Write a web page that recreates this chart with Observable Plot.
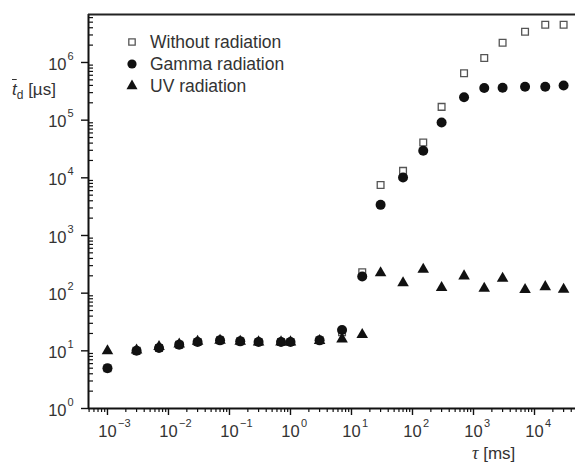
<!DOCTYPE html>
<html><head><meta charset="utf-8">
<script src="https://cdn.jsdelivr.net/npm/d3@7"></script>
<script src="https://cdn.jsdelivr.net/npm/@observablehq/plot@0.6"></script>
<style>
body{margin:0;background:#fff;font-family:"Liberation Sans",Arial,sans-serif;color:#333;}
#wrap{position:relative;width:575px;height:465px;overflow:hidden;}
.ttl{position:absolute;white-space:nowrap;font-size:17px;line-height:17px;color:#333;}
#legend{position:absolute;left:0;top:0;pointer-events:none;}
</style></head><body>
<div id="wrap"></div>
<script>
// tau [ms]
const tau = [0.001, 0.003, 0.007, 0.015, 0.03, 0.07, 0.15, 0.3, 0.7, 1, 3, 7, 15, 30, 70, 150, 300, 700, 1500, 3000, 7000, 15000, 30000];
// mean t_d [µs]
const withoutRad = [5, 10, 11.2, 12.8, 14.2, 15.2, 14.6, 14.2, 14.2, 14.2, 15.2, 21, 230, 7500, 13200, 41000, 170000, 650000, 1200000, 2200000, 3400000, 4500000, 4500000];
const gammaRad   = [5, 10, 11.2, 12.8, 14.2, 15.2, 14.6, 14.2, 14.2, 14.2, 15.2, 23, 195, 3400, 10100, 29500, 91000, 250000, 360000, 365000, 380000, 380000, 400000];
const uvRad      = [10, 10.3, 11.8, 13, 14.5, 15.2, 14.6, 14.2, 14.2, 14.2, 15, 16, 19, 225, 150, 258, 124, 198, 121, 180, 115, 129, 116];
const seriesNames = ["Without radiation", "Gamma radiation", "UV radiation"];
const xExponents = [-3, -2, -1, 0, 1, 2, 3, 4];
const yExponents = [0, 1, 2, 3, 4, 5, 6];

const W = 575, H = 465, mL = 88, mT = 14, mB = 57, mR = 0;
const xDomain = [10 ** -3.311, 10 ** 4.672];
const yDomain = [1, 10 ** 6.832];

function minors(lo, hi, dom) {
  const out = [];
  for (let e = lo; e <= hi; e++) for (let m = 2; m <= 9; m++) {
    const v = m * 10 ** e;
    if (v > dom[0] && v < dom[1]) out.push(v);
  }
  return out;
}
const xMinor = minors(-4, 4, xDomain);
const yMinor = minors(0, 6, yDomain);

const rows = (vals) => tau.map((t, i) => ({t, v: vals[i]}));
const sup = (e) => e < 0 ? "\u2212" + (-e) : String(e);
const txt = "#333";

const chart = Plot.plot({
  width: W, height: H,
  marginLeft: mL, marginTop: mT, marginBottom: mB, marginRight: mR,
  style: {fontFamily: '"Liberation Sans", Arial, sans-serif', background: "white", overflow: "visible"},
  x: {type: "log", domain: xDomain, range: [mL, W - mR]},
  y: {type: "log", domain: yDomain},
  marks: [
    // axis ticks
    Plot.axisX({ticks: xExponents.map(e => 10 ** e), tickSize: 7, tickFormat: () => "", label: null, stroke: "#111", strokeWidth: 1.4}),
    Plot.axisX({ticks: xMinor, tickSize: 4, tickFormat: () => "", label: null, stroke: "#111", strokeWidth: 1.2}),
    Plot.axisY({ticks: yExponents.map(e => 10 ** e), tickSize: 7, tickFormat: () => "", label: null, stroke: "#111", strokeWidth: 1.4}),
    Plot.tickY(yMinor, {y: d => d, insetRight: W - mL - mR - 5, stroke: "#111", strokeWidth: 1.2}),
    // frame lines
    Plot.ruleX([xDomain[0]], {stroke: "#111", strokeWidth: 2}),
    Plot.ruleY([yDomain[0]], {stroke: "#111", strokeWidth: 2}),
    Plot.ruleY([yDomain[1]], {stroke: "#222", strokeWidth: 2}),
    // tick labels
    Plot.text(xExponents, {x: d => 10 ** d, text: () => "10", frameAnchor: "bottom", dy: 28, fontSize: 16.5, fill: txt}),
    Plot.text(xExponents, {x: d => 10 ** d, text: d => sup(d), frameAnchor: "bottom", textAnchor: "start", dx: 10.5, dy: 18, fontSize: 11, fill: txt}),
    Plot.text(yExponents, {y: d => 10 ** d, text: () => "10", frameAnchor: "left", textAnchor: "end", dx: -22, dy: 2, fontSize: 16.5, fill: txt}),
    Plot.text(yExponents, {y: d => 10 ** d, text: d => sup(d), frameAnchor: "left", textAnchor: "start", dx: -21, dy: -6.5, fontSize: 11, fill: txt}),
    // data
    Plot.dot(rows(withoutRad), {x: "t", y: "v", symbol: "square", r: 3.8, fill: "white", stroke: "#555", strokeWidth: 1.3}),
    Plot.dot(rows(gammaRad), {x: "t", y: "v", symbol: "circle", r: 5, fill: "#111", stroke: "none"}),
    Plot.dot(rows(uvRad), {x: "t", y: "v", symbol: "triangle", r: 4.3, fill: "#111", stroke: "none"})
  ]
});
const wrap = document.getElementById("wrap");
wrap.appendChild(chart);

// legend overlay
const lg = d3.select(wrap).append("svg").attr("id", "legend").attr("width", W).attr("height", H);
const symbols = [d3.symbolSquare, d3.symbolCircle, d3.symbolTriangle];
const sizes = [Math.PI * 3.6 * 3.6, Math.PI * 4.6 * 4.6, Math.PI * 4.1 * 4.1];
seriesNames.forEach((name, i) => {
  const cy = 42 + i * 22;
  lg.append("path")
    .attr("d", d3.symbol(symbols[i], sizes[i])())
    .attr("transform", `translate(132,${cy})`)
    .attr("fill", i === 0 ? "white" : "#111")
    .attr("stroke", i === 0 ? "#555" : "none")
    .attr("stroke-width", 1.3);
  lg.append("text").attr("x", 150).attr("y", cy).attr("dy", "0.36em")
    .attr("font-size", 17.5).attr("fill", txt)
    .attr("font-family", '"Liberation Sans", Arial, sans-serif')
    .text(name);
});

// axis titles
const yt = document.createElement("div");
yt.className = "ttl";
yt.style.left = "12px"; yt.style.top = "81px";
yt.innerHTML = '<span style="font-style:italic;text-decoration:overline;">t</span><span style="font-size:12px;position:relative;top:4px;">d</span> [µs]';
wrap.appendChild(yt);
const xt = document.createElement("div");
xt.className = "ttl";
xt.style.left = "472px"; xt.style.top = "445px";
xt.innerHTML = '<span style="font-family:\'Liberation Serif\',serif;font-style:italic;font-size:18px;">τ</span> [ms]';
wrap.appendChild(xt);
</script>
</body></html>
